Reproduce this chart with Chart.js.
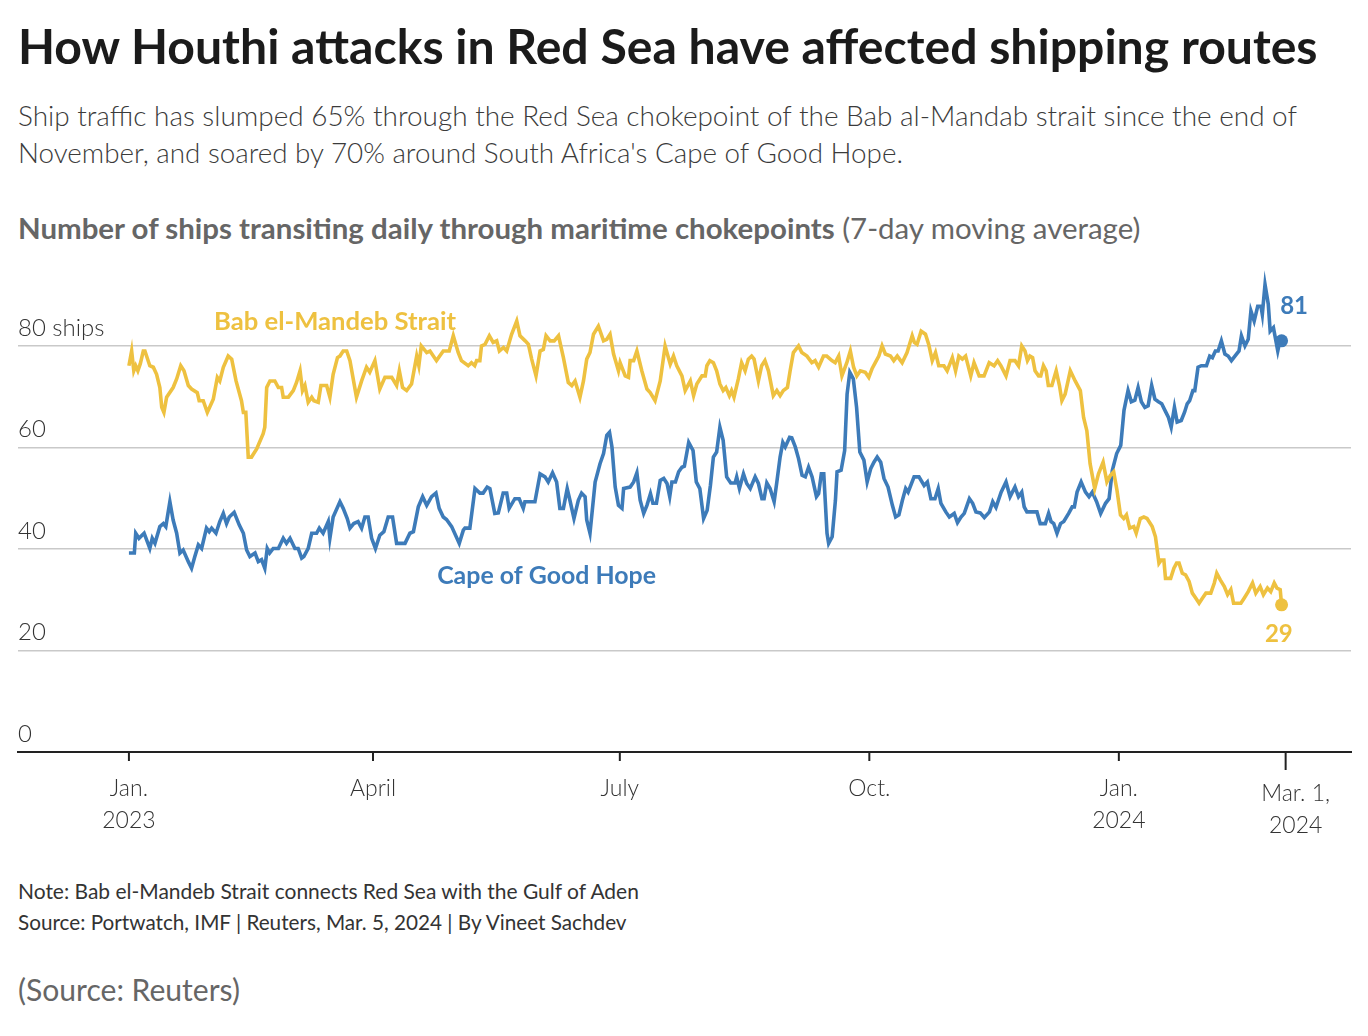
<!DOCTYPE html>
<html>
<head>
<meta charset="utf-8">
<title>Red Sea shipping</title>
<script src="https://cdn.jsdelivr.net/npm/chart.js@4.4.1/dist/chart.umd.min.js"></script>
<style>
  body { margin:0; background:#fff; width:1368px; height:1036px; position:relative; overflow:hidden; font-family: Lato, "Noto Sans", sans-serif; }
  .txt { position:absolute; left:18px; white-space:nowrap; line-height:1.2; }
  #title { font-weight:700; color:#1b1b1b; font-size:44px; }
  .sub { font-weight:300; color:#3b3b3b; font-size:27px; }
  #heading { color:#666; font-size:28px; font-weight:400; }
  #heading b { font-weight:700; }
  .note { color:#333; font-size:21px; }
  #credit { color:#666; font-size:27px; }
  #chartBox { position:absolute; left:0; top:230px; width:1368px; height:620px; }
</style>
</head>
<body>
<div class="txt" id="title" data-w="1300" data-cy="47">How Houthi attacks in Red Sea have affected shipping routes</div>
<div class="txt sub" data-w="1280" data-cy="116">Ship traffic has slumped 65% through the Red Sea chokepoint of the Bab al-Mandab strait since the end of</div>
<div class="txt sub" data-w="885" data-cy="153">November, and soared by 70% around South Africa's Cape of Good Hope.</div>
<div class="txt" id="heading" data-w="1123" data-cy="228"><b>Number of ships transiting daily through maritime chokepoints</b> (7-day moving average)</div>
<div id="chartBox"><canvas id="myChart"></canvas></div>
<div class="txt note" data-w="621" data-cy="891">Note: Bab el-Mandeb Strait connects Red Sea with the Gulf of Aden</div>
<div class="txt note" data-w="609" data-cy="923">Source: Portwatch, IMF | Reuters, Mar. 5, 2024 | By Vineet Sachdev</div>
<div class="txt" id="credit" data-w="222" data-cy="990">(Source: Reuters)</div>
<script>
// days counted from Jan. 1, 2023
const babDays = [0,1,1.8,2.5,3.3,4.2,5.3,5.9,7.7,9,10.2,11.4,12.1,12.9,13.9,16.3,17.6,19.1,20.3,21.9,23.1,25.2,25.9,27.4,28.9,31.1,32.6,33.5,34.8,36.6,37.9,39.5,41.5,42.2,43.1,44,45.2,47.1,49.5,50.1,50.8,52,53.8,55.1,56.3,56.9,58.8,60.6,61.8,63.1,64,64.9,66.1,67.4,68.2,69.8,70.8,72.9,74.1,75.3,76.9,77.8,79,80.3,81.5,83.9,85.8,87.6,88.8,90.7,92.5,94.4,96.9,98.7,99.7,100.9,102.4,104.2,
  106.1,106.9,107.8,109.8,111,113.4,115.9,118.1,119.6,121.4,122.6,125.1,126.3,127.5,128.2,129.4,130,131.3,132.9,134.3,135.6,136.6,138.1,139.3,141.1,143,144.2,146.1,147.3,148.5,150.1,151.6,152.8,153.8,155.3,156.8,158.4,160.2,162,163.3,164.5,166.3,167.6,168.8,170,171.3,173.1,175,176.2,177.4,178.7,180.5,181.1,183,184.2,184.8,186.1,187.3,189.1,191,192.2,194,195.9,197.7,199.6,200.8,202,203.9,205.1,207,208.2,209.4,211.3,212.5,213.1,
  214.2,215.5,216.7,217.9,219.1,220.1,221.4,222.2,223.1,224.7,225.9,227.2,228.4,229.6,230.5,232.1,233.3,234.5,235.8,237.6,238.9,240.1,241.3,242.8,243.8,245,246.9,248.1,250,251.8,253,254.3,256.1,257.3,259.2,260.4,261.7,262.9,264.7,266,267.2,268.4,269.7,271.5,272.8,274,275.2,276.5,277.7,278.9,280.8,282,283.3,285.1,286.9,288.8,289.6,290.6,292.1,293.7,294.9,296.2,297.4,298.6,300.5,301.7,303.6,304.8,306,307.3,308.5,310.4,311.6,313.5,315.3,317.2,319,320.3,321.5,323.4,
  324.9,326.7,328,329.2,330.4,331.3,332.2,333.2,334.1,335.4,336.2,337.2,338.2,339,340.3,341.9,343.1,344,345.2,347.1,348.9,350.8,352,353.2,354.4,356.1,357.5,359.2,360.6,361.9,363.1,364.3,365.6,366.8,367.8,369,370.5,371.4,372.9,374.2,375.4,377.3,378.5,379.8,380.6,381.6,382.2,384.1,385.3,386.3,387.2,388.4,389.6,390.9,392.1,393.4,394.6,395.8,397.1,398.9,400.2,401.1,402.4,403.9,405.1,406.3,407.3,410,411.2,412.7,414.3,415.5,417.1,418.3,419.8,421,422.3,423.3,424.5,425];
const babShips = [76.1,79,75.1,76.1,75.1,76.5,79,79,76.1,75.8,74.4,71.8,67.9,66.9,69.9,71.8,73.5,76.1,75.1,72.2,71.5,70.8,69.2,69.2,66.9,69.5,73.8,73.1,75.8,78,77.4,73.1,69.2,66.9,66.9,58.1,58.1,59.7,62.7,64,71.8,73.1,73.1,71.8,71.8,69.9,69.9,71.2,72.8,75.1,71.2,72.2,68.9,69.9,69.2,68.9,72.2,72.2,69.9,74.4,77.7,78,79,79,77.1,69.9,73.1,75.8,74.8,77.1,71.5,73.8,73.8,72.2,75.1,71.8,71.2,72.5,
  78,76.1,80,78.7,79,77.1,79,79,82,78.7,77.1,76.1,76.7,76.1,77.1,77.1,80,80.3,82,80.7,81,79,79.7,79,82.3,84.9,82,81,80.3,77.4,74.1,79,79.3,82,81,81,82,77.7,72.8,72.2,73.1,69.9,73.1,77.4,78.7,82.3,83.9,81,81.3,82.3,78.4,75.1,76.7,74.1,73.8,77.1,77.1,79,75.1,71.5,70.8,69.2,73.1,80,76.4,78,76.1,74.1,71.2,73.1,70.2,72.5,74.1,74.1,76.1,
  77.1,76.7,75.1,72.5,71.2,71.8,70.2,71.2,69.9,73.5,76.7,75.1,77.4,78,77.4,73.1,76.1,77.1,75.1,70.2,71.2,70.2,71.2,71.8,75.1,78.7,80,78.7,78,76.7,77.1,75.8,78,78,77.1,76.7,78,74.1,76.7,79,75.8,74.1,75.1,74.8,73.8,75.5,76.7,78,80,78.4,78,77.1,78,76.7,78.7,82,80.7,80.3,82.9,82.3,80.3,77.1,78.7,76.1,76.1,75.1,77.7,75.1,78,77.4,78,74.1,76.7,74.1,74.1,76.7,76.1,77.1,76.1,74.1,
  77.1,77.1,76.1,80,79,77.1,78,77.7,75.1,74.1,74.1,76.1,75.1,72.2,72.2,75.1,72.2,69.2,70.5,75.1,73.1,71.2,65.9,63.3,56.8,51.9,54.8,57.1,53.2,54.5,55.2,51.6,46.7,46,46.7,44.1,44.4,43.1,46,46.3,46,44.4,42.4,37.2,37.8,37.8,34.2,34.2,36.2,37.2,37.2,35.2,34.9,33.6,31.3,30.3,29.3,30.3,31.3,31.3,33.3,35.2,33.9,32.6,31,32,29.3,29.3,30.3,31.6,33.3,31.3,32.6,31,32.3,31.6,33.3,32.3,32,29];

const capeDays = [0,2,2.5,3.7,5.6,7.7,8.6,9.6,11.4,12.7,13.6,15.1,16.3,17.6,18.8,20,21.9,23.1,24.3,25.6,26.8,28.6,29.6,30.5,32.1,33.5,34.8,36,37,38.8,40.7,42.2,43.4,44.6,46.5,47.7,48.9,50.1,51,51.9,53.2,55.1,56.9,58.1,59.4,61.2,62.4,63.7,64.5,66.1,67.4,69.2,70.2,71.6,73.5,74.1,75.3,77.8,79,80.5,81.5,82.9,84.5,85.8,87,88.2,89.5,90.9,92.5,94,95.6,97.2,98.7,101.8,103.6,104.9,
  106.7,108.3,109.8,111.6,113.2,114.4,115.9,117.1,119,121.8,123.3,123.9,125.7,127.6,129.4,130.6,132.1,133.1,134.9,136.2,138,139.3,140.2,142.3,143.9,145.4,146,149.7,151.6,153.4,154.6,156.2,157.7,158.9,160.2,161.6,162.6,164.1,165.7,166.9,168.2,168.8,170,171.9,173.7,175,176.2,177.2,178.1,179.3,180.5,181.8,182.4,184.8,186.1,187.3,188.5,189.8,191,192.3,193.2,194.5,195.9,197.2,198.4,199.4,200.2,201.5,202.7,203.9,204.8,206.4,208,209.2,210.5,211.9,213.2,214.4,
  215.5,216.7,217.9,219.1,220.4,221.9,223.5,224.1,225.1,226.6,227.8,229.1,230.9,232.1,233.4,234.2,235.2,236.4,237.9,238.9,240.1,241.1,242,243.6,244.4,245.7,246.9,248.2,249.4,250.6,251.9,253.5,254.3,255.3,256.2,257.4,258,259.3,260.5,261.1,262.6,263.9,264.8,265.8,267.1,268.3,269.5,271,272.2,273.5,274.7,275.9,277.2,278.4,279.9,281.5,282.7,283.9,285.2,286.4,287.3,289.5,291.3,293.2,294.4,295.7,297.2,298.4,299.4,301.2,302.5,304.3,305.5,306.8,308,309.9,311.1,312.3,313.9,315.4,317.3,318.5,319.7,321.6,323.4,
  324.9,326.7,328,329.2,330.1,331.1,332.9,334.8,336,337.9,339.1,340,341,342.2,343.5,344.7,346.5,347.8,348.6,349.6,351.1,352.7,354,355.2,356.8,358.3,360.1,361.4,362.6,364.2,365.7,366.9,368.4,369.6,370.9,372.1,373.3,374.6,375.8,377.1,378.3,379.6,380.8,382,383.3,384.3,385.5,386.5,388,389.2,390.2,391.1,392.3,393,394.2,395.4,397.3,398.5,399.5,400.6,401.6,402.8,404.1,405.3,406.5,407.8,409.3,410.2,411.5,412.7,413.7,414.9,416.2,417.4,417.9,418.9,420.1,420.8,422,423.6,424.5,425];
const capeShips = [39.2,39.2,43.1,42.1,43.1,40.1,42.1,41.1,44.4,45,44.4,49.3,45.7,43.1,39.2,39.8,37.5,36.2,38.5,40.8,40.1,44.1,43.4,44.1,43.1,45.4,47,45,46.3,47.2,44.7,43.1,39.8,38.5,39.2,37.5,37.9,36.2,40.1,39.2,40.1,40.1,42.1,41.1,42.1,40.1,40.1,38.2,38.5,40.1,43.1,43.1,44.1,43.1,45.4,42.1,46.3,49.3,48,46,44.1,45,45.4,44.1,46.3,46.3,42.1,40.1,42.7,43.4,46.3,46.3,41.1,41.1,43.1,43.4,
  48.3,50.3,48.6,50.3,51,48,46.3,45.8,44.4,41.1,43.7,44.1,44.1,51.9,51,51,52.2,51.9,47,47.1,51,51,48,49.9,49.9,48,49.3,49.3,54.8,54.2,53.2,55,53.2,48,48,51.9,49.6,46,49.6,51,50.3,45.7,43.1,53.2,56.8,58.8,62.4,63,60.1,52.2,48.6,48,51.9,52.2,53.2,55,49.6,47,48.6,50.9,49,49,53.5,53.9,52.9,50.3,53.2,53.2,55.2,56.1,56.3,61,59.4,53.2,51.9,46,47.6,52.5,
  58.1,59.1,64,61.4,54.2,53,53,54.2,51.9,54.8,52.9,51.9,54.2,52.9,49.9,49.9,53,51.9,49.3,53.2,58.1,61,60.1,62,61.9,60.1,57.8,54.5,54.2,56.1,54.2,50.3,50.9,54.8,54.8,43.1,41.1,42.4,49.6,55.2,55.5,59.4,70.5,74.8,73.5,67.9,59.1,57.5,53.2,55.8,57.1,58.1,57.1,53.9,52.2,48.6,46.3,46.7,49.6,51.9,51.2,54.2,54.2,52.5,53.2,49.9,49.9,51.9,49,47.3,46.3,47,45.2,46.3,47,49.9,49,47.3,47.1,46.2,47.3,49.3,48.2,51.2,53.2,
  50.3,52.2,50.3,51.2,48.3,47.3,47.3,47.3,45,45,47,45.4,45,43.1,45,45.4,47,48.3,48.3,51.2,53.2,51.2,50.3,51.2,49.3,47,49,49.9,55.5,58.8,60.4,67.3,71.2,69,69.3,71.8,69,67.9,68.2,72.2,69.5,69,68.6,67.3,65.9,64,67.9,65,65.3,66.9,68.6,69.2,71.2,71.2,75.8,76.1,76.1,78,77.7,79,79,81,78.4,78,77.1,78,79,82,80,81.3,86.9,84.9,87.8,87.8,86.2,92.1,88.2,82.9,83.6,79,81.3,81];

const xTickDays = [0, 90, 181, 273, 365, 426.5];
const xTickLabels = [['Jan.', '2023'], ['April'], ['July'], ['Oct.'], ['Jan.', '2024'], ['Mar. 1,', '2024']];
const yTicks = [0, 20, 40, 60, 80];
const yTickLabels = ['0', '20', '40', '60', '80 ships'];

const YELLOW = '#EEC140';
const BLUE = '#3D7BB9';

// size + place the html texts
function fitTexts() {
    document.querySelectorAll('.txt').forEach(function (el) {
        let fs = parseFloat(getComputedStyle(el).fontSize);
        const w = el.getBoundingClientRect().width;
        fs = fs * parseFloat(el.dataset.w) / w;
        el.style.fontSize = fs + 'px';
        const h = el.getBoundingClientRect().height;
        el.style.top = (parseFloat(el.dataset.cy) - h / 2 - 0.02 * fs) + 'px';
    });
}

function fitFont(ctx, text, width, weight) {
    ctx.font = weight + ' 24px Lato';
    const size = 24 * width / ctx.measureText(text).width;
    return weight + ' ' + size + 'px Lato';
}

const lastIndex = (arr) => arr.length - 1;

const overlay = {
    id: 'overlay',
    afterDraw(chart) {
        const ctx = chart.ctx;
        const x = chart.scales.x, y = chart.scales.y;
        const base = y.getPixelForValue(0);
        ctx.save();

        // x ticks + labels
        ctx.strokeStyle = '#222';
        ctx.lineWidth = 2;
        ctx.fillStyle = '#333';
        ctx.textAlign = 'center';
        ctx.textBaseline = 'middle';
        ctx.font = '300 23px Lato';
        xTickDays.forEach(function (d, i) {
            const last = i === xTickDays.length - 1;
            const px = x.getPixelForValue(d);
            ctx.beginPath();
            ctx.moveTo(px, base);
            ctx.lineTo(px, base + (last ? 18 : 9));
            ctx.stroke();
            xTickLabels[i].forEach(function (t, j) {
                ctx.fillText(t, px + (last ? 10 : 0), base + (last ? 42 : 37) + j * 32);
            });
        });

        // series names
        ctx.fillStyle = YELLOW;
        ctx.font = fitFont(ctx, 'Bab el-Mandeb Strait', 242, 'bold');
        ctx.fillText('Bab el-Mandeb Strait', x.getPixelForValue(76), y.getPixelForValue(84.8));
        ctx.fillStyle = BLUE;
        ctx.font = fitFont(ctx, 'Cape of Good Hope', 219, 'bold');
        ctx.fillText('Cape of Good Hope', x.getPixelForValue(154), y.getPixelForValue(34.6));

        // end values
        ctx.font = 'bold 24px Lato';
        ctx.fillStyle = BLUE;
        ctx.fillText(String(capeShips[lastIndex(capeShips)]), x.getPixelForValue(429.6), y.getPixelForValue(87.9));
        ctx.fillStyle = YELLOW;
        ctx.fillText(String(babShips[lastIndex(babShips)]), x.getPixelForValue(424), y.getPixelForValue(23.2));
        ctx.restore();
    }
};

function endDot(arr) {
    return function (c) { return c.dataIndex === lastIndex(arr) ? 6.5 : 0; };
}

function drawChart() {
    Chart.defaults.font.family = 'Lato';
    const data = {
        datasets: [{
            label: 'Bab el-Mandeb Strait',
            data: babDays.map(function (d, i) { return { x: d, y: babShips[i] }; }),
            borderColor: YELLOW,
            backgroundColor: YELLOW,
            borderWidth: 3.6,
            pointRadius: endDot(babShips),
            pointBorderWidth: 0,
            tension: 0
        }, {
            label: 'Cape of Good Hope',
            data: capeDays.map(function (d, i) { return { x: d, y: capeShips[i] }; }),
            borderColor: BLUE,
            backgroundColor: BLUE,
            borderWidth: 3.6,
            pointRadius: endDot(capeShips),
            pointBorderWidth: 0,
            tension: 0
        }]
    };

    const config = {
        type: 'line',
        data,
        options: {
            responsive: true,
            maintainAspectRatio: false,
            animation: false,
            events: [],
            layout: { padding: { left: 18, right: 17, top: 13.5, bottom: 98 } },
            plugins: { legend: { display: false }, tooltip: { enabled: false } },
            scales: {
                x: {
                    type: 'linear',
                    min: -40.9,
                    max: 450.6,
                    grid: { display: false, drawTicks: false },
                    border: { display: true, color: '#222', width: 2 },
                    ticks: { display: false }
                },
                y: {
                    min: 0,
                    max: 100,
                    afterBuildTicks: function (axis) {
                        axis.ticks = yTicks.map(function (v) { return { value: v }; });
                    },
                    grid: {
                        drawTicks: false,
                        color: function (c) { return c.tick && c.tick.value === 0 ? 'rgba(0,0,0,0)' : '#c9c9c9'; },
                        lineWidth: 1.5
                    },
                    border: { display: false },
                    ticks: {
                        mirror: true,
                        padding: 0,
                        labelOffset: -18,
                        color: '#333',
                        font: { size: 24, weight: 300 },
                        callback: function (v) { return yTickLabels[yTicks.indexOf(v)]; }
                    }
                }
            }
        },
        plugins: [overlay]
    };

    new Chart(document.getElementById('myChart'), config);
}

fitTexts();
drawChart();
</script>
</body>
</html>
